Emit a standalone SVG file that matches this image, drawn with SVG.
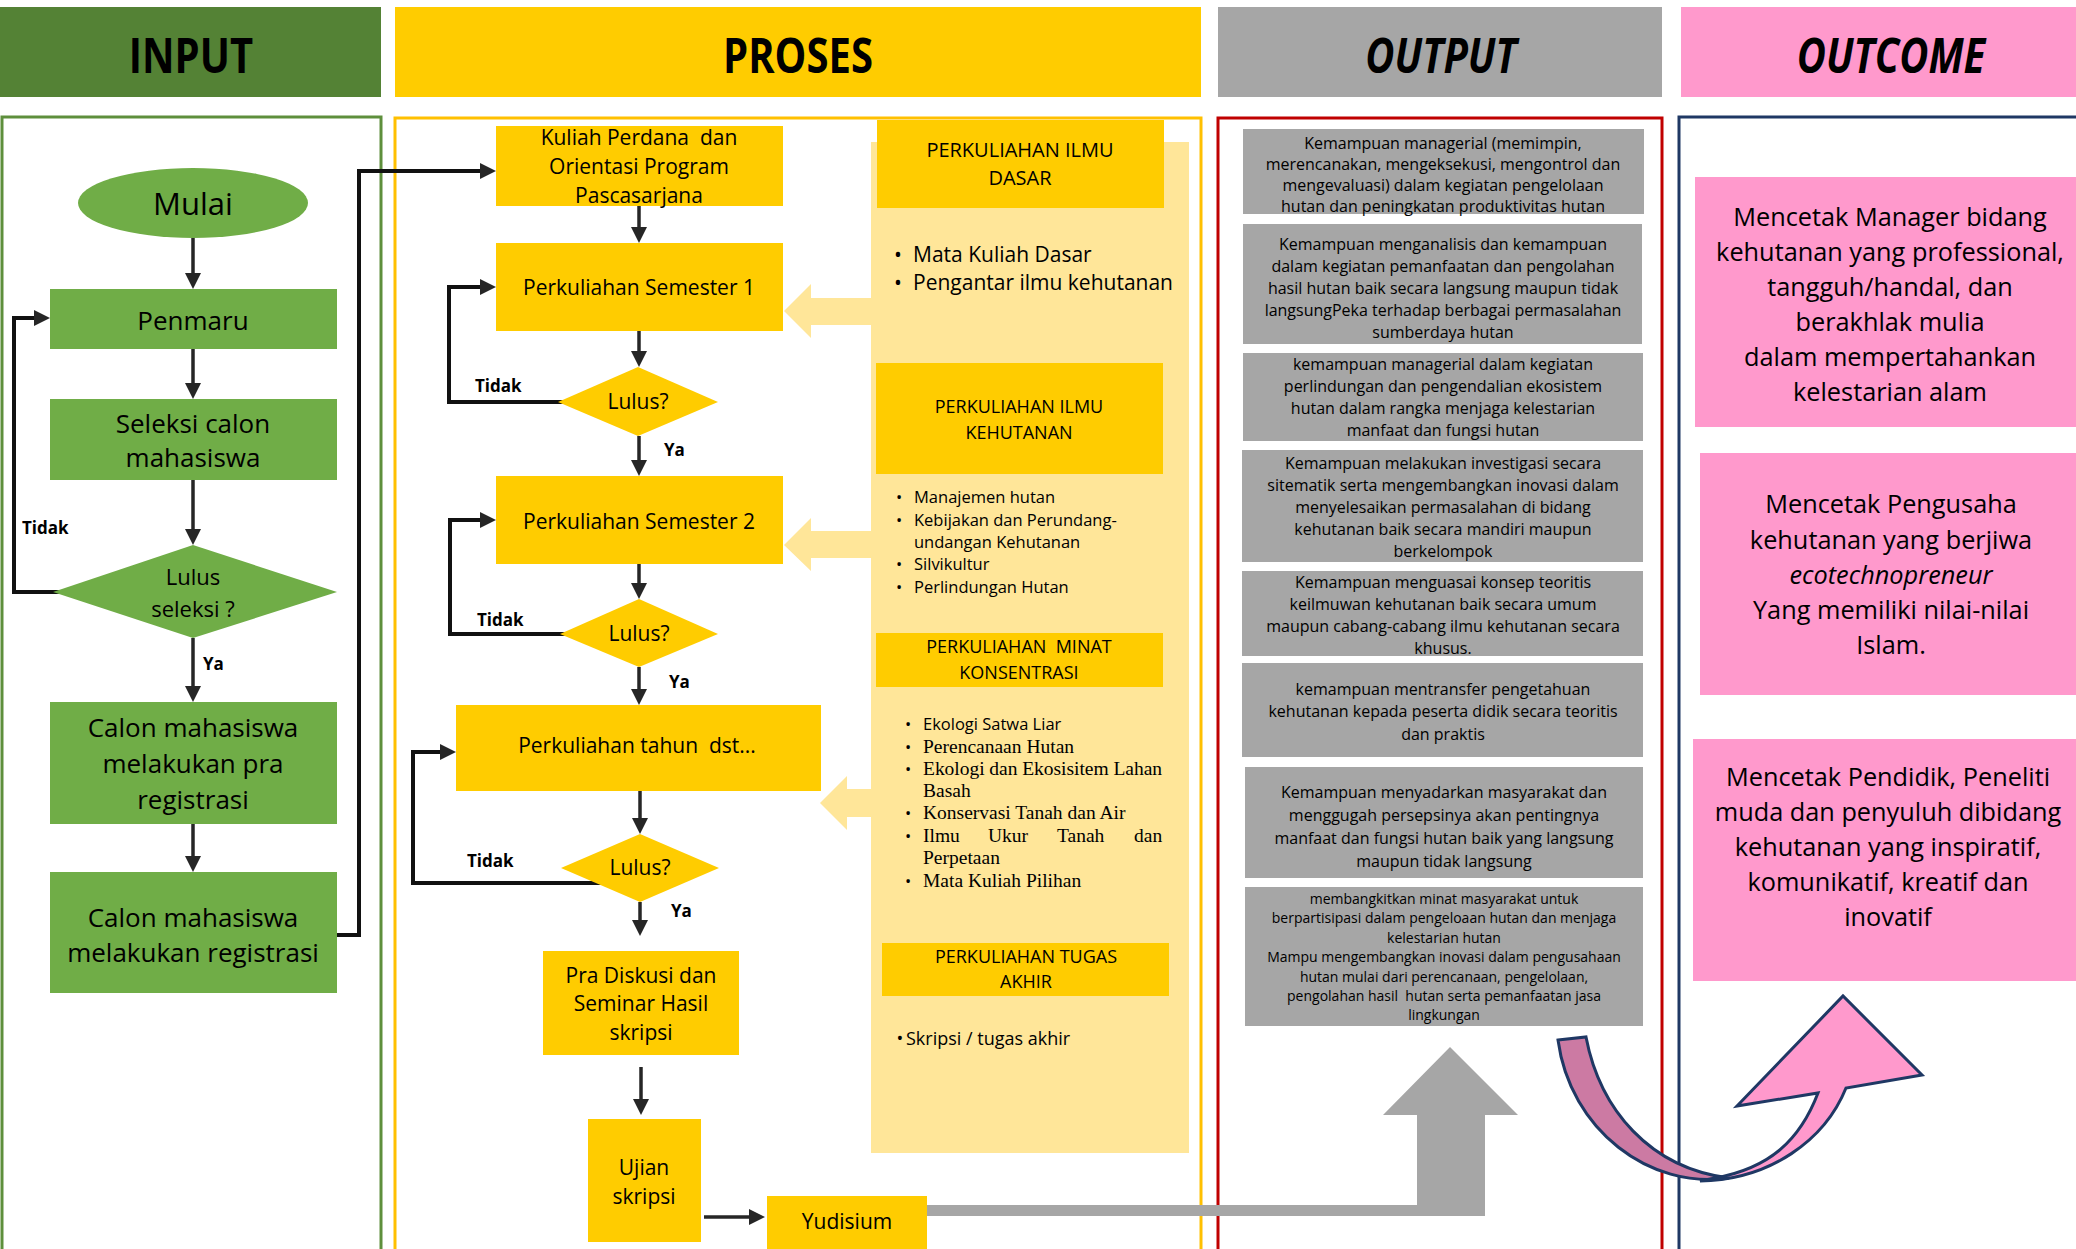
<svg xmlns="http://www.w3.org/2000/svg" width="2076" height="1249" viewBox="0 0 2076 1249">
<defs>
<style>
.t{font-family:"Open Sans","DejaVu Sans",sans-serif;fill:#000;text-anchor:middle}
.hd{font-family:"Open Sans","DejaVu Sans",sans-serif;font-weight:700;font-size:40px;fill:#000;text-anchor:middle}
.it{font-style:italic}
.b{font-weight:700;text-anchor:start;font-size:17px}
.sf{font-family:"Liberation Serif","Times New Roman",serif;fill:#000;font-size:19.5px}
.ls{text-anchor:start}
.gn{fill:#70AD47}
.yl{fill:#FFCC00}
.ly{fill:#FFE699}
.gr{fill:#A6A6A6}
.pk{fill:#FF99CC}
.conn{fill:none;stroke:#262626;stroke-width:3.5;marker-end:url(#ah)}
.loop{fill:none;stroke:#111;stroke-width:4;marker-end:url(#ah)}
.f26{font-size:26px}.f21{font-size:21px}.f20{font-size:20px}.f18{font-size:18px}.f16{font-size:16px}.f165{font-size:16.5px}.f14{font-size:14px}.f25{font-size:25.3px}
</style>
<marker id="ah" viewBox="0 0 10 10" refX="7.5" refY="5" markerWidth="16" markerHeight="16" markerUnits="userSpaceOnUse" orient="auto">
<path d="M0,0 L10,5 L0,10 z" fill="#262626"/>
</marker>
</defs>
<rect width="2076" height="1249" fill="#fff"/>

<!-- headers -->
<g id="header-input"><rect x="0" y="7" width="381" height="90" fill="#548235"/><text class="hd" transform="translate(191,73) scale(1,1.2)">INPUT</text></g>
<g id="header-proses"><rect x="395" y="7" width="806" height="90" fill="#FFCC00"/><text class="hd" transform="translate(798,73) scale(1,1.2)">PROSES</text></g>
<g id="header-output"><rect x="1218" y="7" width="444" height="90" fill="#A6A6A6"/><text class="hd it" transform="translate(1441,73) scale(1,1.2)">OUTPUT</text></g>
<g id="header-outcome"><rect x="1681" y="7" width="400" height="90" fill="#FF99CC"/><text class="hd it" transform="translate(1891,73) scale(1,1.2)">OUTCOME</text></g>

<!-- panels -->
<g id="panels" fill="none" stroke-width="3">
<rect x="2" y="117" width="379" height="1150" stroke="#5E8F3C"/>
<rect x="395" y="118" width="806" height="1150" stroke="#FFC000"/>
<rect x="1218" y="118" width="444" height="1150" stroke="#C00000"/>
<rect x="1679" y="117" width="420" height="1150" stroke="#1F3864"/>
</g>

<!-- light yellow course panel and block arrows -->
<g id="course-panel">
<rect class="ly" x="871" y="142" width="318" height="1011"/>
<polygon class="ly" points="784,311 811,284 811,298 872,298 872,325 811,325 811,338"/>
<polygon class="ly" points="784,545 811,518 811,531 872,531 872,558 811,558 811,571"/>
<polygon class="ly" points="820,803 847,776 847,789 872,789 872,817 847,817 847,830"/>
</g>

<!-- connectors -->
<g id="connectors">
<path class="conn" d="M193,238 V285"/>
<path class="conn" d="M193,349 V395"/>
<path class="conn" d="M193,480 V541"/>
<path class="conn" d="M193,638 V698"/>
<path class="conn" d="M193,824 V868"/>
<path class="loop" d="M60,592 H14 V318 H46"/>
<path class="loop" d="M337,935 H359 V171 H492"/>
<path class="conn" d="M639,206 V239"/>
<path class="conn" d="M639,331 V363"/>
<path class="conn" d="M639,436 V472"/>
<path class="loop" d="M565,402 H449 V287 H492"/>
<path class="conn" d="M639,564 V595"/>
<path class="conn" d="M639,667 V701"/>
<path class="loop" d="M567,634 H450 V520 H492"/>
<path class="conn" d="M640,791 V830"/>
<path class="loop" d="M612,883 H413 V752 H452"/>
<path class="conn" d="M640,902 V932"/>
<path class="conn" d="M641,1067 V1111"/>
<path class="conn" d="M704,1217 H761"/>
<text class="t b" x="22" y="534">Tidak</text>
<text class="t b" x="203" y="670">Ya</text>
<text class="t b" x="475" y="392">Tidak</text>
<text class="t b" x="664" y="456">Ya</text>
<text class="t b" x="477" y="626">Tidak</text>
<text class="t b" x="669" y="688">Ya</text>
<text class="t b" x="467" y="867">Tidak</text>
<text class="t b" x="671" y="917">Ya</text>
</g>

<!-- INPUT nodes -->
<g id="mulai"><ellipse class="gn" cx="193" cy="203" rx="115" ry="35"/><text class="t" x="193" y="215" font-size="31">Mulai</text></g>
<g id="penmaru"><rect class="gn" x="50" y="289" width="287" height="60"/><text class="t f26" x="193" y="330">Penmaru</text></g>
<g id="seleksi"><rect class="gn" x="50" y="399" width="287" height="81"/><text class="t f26" x="193" y="433">Seleksi calon</text><text class="t f26" x="193" y="467">mahasiswa</text></g>
<g id="lulus-seleksi"><polygon class="gn" points="193,545 337,592 193,638 53,592"/><text class="t" font-size="22" x="193" y="585">Lulus</text><text class="t" font-size="22" x="193" y="617">seleksi ?</text></g>
<g id="pra-registrasi"><rect class="gn" x="50" y="702" width="287" height="122"/><text class="t f26" x="193" y="737">Calon mahasiswa</text><text class="t f26" x="193" y="773">melakukan pra</text><text class="t f26" x="193" y="809">registrasi</text></g>
<g id="registrasi"><rect class="gn" x="50" y="872" width="287" height="121"/><text class="t f26" x="193" y="927">Calon mahasiswa</text><text class="t f26" x="193" y="962">melakukan registrasi</text></g>

<!-- PROSES nodes -->
<g id="kuliah-perdana"><rect class="yl" x="496" y="126" width="287" height="80"/><text class="t f21" x="639" y="145" xml:space="preserve">Kuliah Perdana  dan</text><text class="t f21" x="639" y="174">Orientasi Program</text><text class="t f21" x="639" y="203">Pascasarjana</text></g>
<g id="semester1"><rect class="yl" x="496" y="243" width="287" height="88"/><text class="t f21" x="639" y="295">Perkuliahan Semester 1</text></g>
<g id="lulus1"><polygon class="yl" points="638,367 718,402 638,436 558,402"/><text class="t f21" x="638" y="409">Lulus?</text></g>
<g id="semester2"><rect class="yl" x="496" y="476" width="287" height="88"/><text class="t f21" x="639" y="529">Perkuliahan Semester 2</text></g>
<g id="lulus2"><polygon class="yl" points="639,599 718,634 639,667 560,634"/><text class="t f21" x="639" y="641">Lulus?</text></g>
<g id="tahun-dst"><rect class="yl" x="456" y="705" width="365" height="86"/><text class="t f21" x="637" y="753" xml:space="preserve">Perkuliahan tahun  dst...</text></g>
<g id="lulus3"><polygon class="yl" points="640,834 719,868 640,902 561,868"/><text class="t f21" x="640" y="875">Lulus?</text></g>
<g id="pra-diskusi"><rect class="yl" x="543" y="951" width="196" height="104"/><text class="t f21" x="641" y="983">Pra Diskusi dan</text><text class="t f21" x="641" y="1011">Seminar Hasil</text><text class="t f21" x="641" y="1040">skripsi</text></g>
<g id="ujian"><rect class="yl" x="588" y="1119" width="113" height="123"/><text class="t f21" x="644" y="1175">Ujian</text><text class="t f21" x="644" y="1204">skripsi</text></g>
<g id="yudisium"><rect class="yl" x="767" y="1196" width="160" height="60"/><text class="t f21" x="847" y="1229">Yudisium</text></g>

<!-- course groups -->
<g id="ilmu-dasar">
<rect class="yl" x="877" y="120" width="287" height="88"/>
<text class="t f20" x="1020" y="157">PERKULIAHAN ILMU</text><text class="t f20" x="1020" y="185">DASAR</text>
<text class="t f21" x="898" y="262">•</text><text class="t f21 ls" x="913" y="262">Mata Kuliah Dasar</text>
<text class="t f21" x="898" y="290">•</text><text class="t f21 ls" x="913" y="290">Pengantar ilmu kehutanan</text>
</g>
<g id="ilmu-kehutanan">
<rect class="yl" x="876" y="363" width="287" height="111"/>
<text class="t f18" x="1019" y="413">PERKULIAHAN ILMU</text><text class="t f18" x="1019" y="439">KEHUTANAN</text>
<text class="t f165" x="899" y="503">•</text><text class="t f165 ls" x="914" y="503">Manajemen hutan</text>
<text class="t f165" x="899" y="526">•</text><text class="t f165 ls" x="914" y="526">Kebijakan dan Perundang-</text>
<text class="t f165 ls" x="914" y="548">undangan Kehutanan</text>
<text class="t f165" x="899" y="570">•</text><text class="t f165 ls" x="914" y="570">Silvikultur</text>
<text class="t f165" x="899" y="593">•</text><text class="t f165 ls" x="914" y="593">Perlindungan Hutan</text>
</g>
<g id="minat-konsentrasi">
<rect class="yl" x="876" y="633" width="287" height="54"/>
<text class="t f18" x="1019" y="653" xml:space="preserve">PERKULIAHAN  MINAT</text><text class="t f18" x="1019" y="679">KONSENTRASI</text>
<text class="t f165" x="908" y="730">•</text><text class="t f165 ls" x="923" y="730">Ekologi Satwa Liar</text>
<text class="t f165" x="908" y="753">•</text><text class="sf" x="923" y="753">Perencanaan Hutan</text>
<text class="t f165" x="908" y="775">•</text><text class="sf" x="923" y="775" textLength="239" lengthAdjust="spacing">Ekologi dan Ekosisitem Lahan</text>
<text class="sf" x="923" y="797">Basah</text>
<text class="t f165" x="908" y="819">•</text><text class="sf" x="923" y="819">Konservasi Tanah dan Air</text>
<text class="t f165" x="908" y="842">•</text><text class="sf" x="923" y="842">Ilmu</text><text class="sf" x="988" y="842">Ukur</text><text class="sf" x="1057" y="842">Tanah</text><text class="sf" x="1134" y="842">dan</text>
<text class="sf" x="923" y="864">Perpetaan</text>
<text class="t f165" x="908" y="887">•</text><text class="sf" x="923" y="887">Mata Kuliah Pilihan</text>
</g>
<g id="tugas-akhir">
<rect class="yl" x="882" y="943" width="287" height="53"/>
<text class="t f18" x="1026" y="963">PERKULIAHAN TUGAS</text><text class="t f18" x="1026" y="988">AKHIR</text>
<text class="t f18" x="900" y="1045">•</text><text class="t f18 ls" x="906" y="1045">Skripsi / tugas akhir</text>
</g>

<!-- OUTPUT boxes -->
<g id="output1"><rect class="gr" x="1243" y="129" width="401" height="85"/>
<text class="t f16" x="1443" y="149">Kemampuan managerial (memimpin,</text>
<text class="t f16" x="1443" y="170">merencanakan, mengeksekusi, mengontrol dan</text>
<text class="t f16" x="1443" y="191">mengevaluasi) dalam kegiatan pengelolaan</text>
<text class="t f16" x="1443" y="212">hutan dan peningkatan produktivitas hutan</text></g>
<g id="output2"><rect class="gr" x="1243" y="224" width="399" height="120"/>
<text class="t f16" x="1443" y="250">Kemampuan menganalisis dan kemampuan</text>
<text class="t f16" x="1443" y="272">dalam kegiatan pemanfaatan dan pengolahan</text>
<text class="t f16" x="1443" y="294">hasil hutan baik secara langsung maupun tidak</text>
<text class="t f16" x="1443" y="316">langsungPeka terhadap berbagai permasalahan</text>
<text class="t f16" x="1443" y="338">sumberdaya hutan</text></g>
<g id="output3"><rect class="gr" x="1243" y="353" width="400" height="88"/>
<text class="t f16" x="1443" y="370">kemampuan managerial dalam kegiatan</text>
<text class="t f16" x="1443" y="392">perlindungan dan pengendalian ekosistem</text>
<text class="t f16" x="1443" y="414">hutan dalam rangka menjaga kelestarian</text>
<text class="t f16" x="1443" y="436">manfaat dan fungsi hutan</text></g>
<g id="output4"><rect class="gr" x="1242" y="450" width="401" height="112"/>
<text class="t f16" x="1443" y="469">Kemampuan melakukan investigasi secara</text>
<text class="t f16" x="1443" y="491">sitematik serta mengembangkan inovasi dalam</text>
<text class="t f16" x="1443" y="513">menyelesaikan permasalahan di bidang</text>
<text class="t f16" x="1443" y="535">kehutanan baik secara mandiri maupun</text>
<text class="t f16" x="1443" y="557">berkelompok</text></g>
<g id="output5"><rect class="gr" x="1242" y="571" width="401" height="85"/>
<text class="t f16" x="1443" y="588">Kemampuan menguasai konsep teoritis</text>
<text class="t f16" x="1443" y="610">keilmuwan kehutanan baik secara umum</text>
<text class="t f16" x="1443" y="632">maupun cabang-cabang ilmu kehutanan secara</text>
<text class="t f16" x="1443" y="654">khusus.</text></g>
<g id="output6"><rect class="gr" x="1242" y="663" width="401" height="94"/>
<text class="t f16" x="1443" y="695">kemampuan mentransfer pengetahuan</text>
<text class="t f16" x="1443" y="717">kehutanan kepada peserta didik secara teoritis</text>
<text class="t f16" x="1443" y="740">dan praktis</text></g>
<g id="output7"><rect class="gr" x="1245" y="767" width="398" height="111"/>
<text class="t f16" x="1444" y="798">Kemampuan menyadarkan masyarakat dan</text>
<text class="t f16" x="1444" y="821">menggugah persepsinya akan pentingnya</text>
<text class="t f16" x="1444" y="844">manfaat dan fungsi hutan baik yang langsung</text>
<text class="t f16" x="1444" y="867">maupun tidak langsung</text></g>
<g id="output8"><rect class="gr" x="1245" y="887" width="398" height="139"/>
<text class="t f14" x="1444" y="904">membangkitkan minat masyarakat untuk</text>
<text class="t f14" x="1444" y="923">berpartisipasi dalam pengeloaan hutan dan menjaga</text>
<text class="t f14" x="1444" y="943">kelestarian hutan</text>
<text class="t f14" x="1444" y="962">Mampu mengembangkan inovasi dalam pengusahaan</text>
<text class="t f14" x="1444" y="982">hutan mulai dari perencanaan, pengelolaan,</text>
<text class="t f14" x="1444" y="1001" xml:space="preserve">pengolahan hasil  hutan serta pemanfaatan jasa</text>
<text class="t f14" x="1444" y="1020">lingkungan</text></g>

<!-- OUTCOME boxes -->
<g id="outcome1"><rect class="pk" x="1695" y="177" width="390" height="250"/>
<text class="t f25" x="1890" y="226">Mencetak Manager bidang</text>
<text class="t f25" x="1890" y="261">kehutanan yang professional,</text>
<text class="t f25" x="1890" y="296">tangguh/handal, dan</text>
<text class="t f25" x="1890" y="331">berakhlak mulia</text>
<text class="t f25" x="1890" y="366">dalam mempertahankan</text>
<text class="t f25" x="1890" y="401">kelestarian alam</text></g>
<g id="outcome2"><rect class="pk" x="1700" y="453" width="385" height="242"/>
<text class="t f25" x="1891" y="513">Mencetak Pengusaha</text>
<text class="t f25" x="1891" y="549">kehutanan yang berjiwa</text>
<text class="t f25 it" x="1891" y="584">ecotechnopreneur</text>
<text class="t f25" x="1891" y="619">Yang memiliki nilai-nilai</text>
<text class="t f25" x="1891" y="654">Islam.</text></g>
<g id="outcome3"><rect class="pk" x="1693" y="739" width="392" height="242"/>
<text class="t f25" x="1888" y="786">Mencetak Pendidik, Peneliti</text>
<text class="t f25" x="1888" y="821">muda dan penyuluh dibidang</text>
<text class="t f25" x="1888" y="856">kehutanan yang inspiratif,</text>
<text class="t f25" x="1888" y="891">komunikatif, kreatif dan</text>
<text class="t f25" x="1888" y="926">inovatif</text></g>

<!-- big arrows -->
<g id="grey-arrow"><polygon class="gr" points="927,1205 1417,1205 1417,1115 1383,1115 1450,1047 1518,1115 1485,1115 1485,1216 927,1216"/></g>
<g id="curved-arrow" stroke="#1F3864" stroke-width="3" stroke-linejoin="miter">
<path fill="#CC7AA3" d="M1558,1040 L1586,1037 C1600,1110 1650,1168 1729,1178 C1650,1190 1570,1130 1558,1040 Z"/>
<path fill="#FF99CC" d="M1700,1181 C1770,1180 1825,1140 1846,1088 L1922,1075 L1843,996 L1737,1106 L1818,1093 C1800,1140 1770,1168 1715,1178 Z"/>
</g>
</svg>
